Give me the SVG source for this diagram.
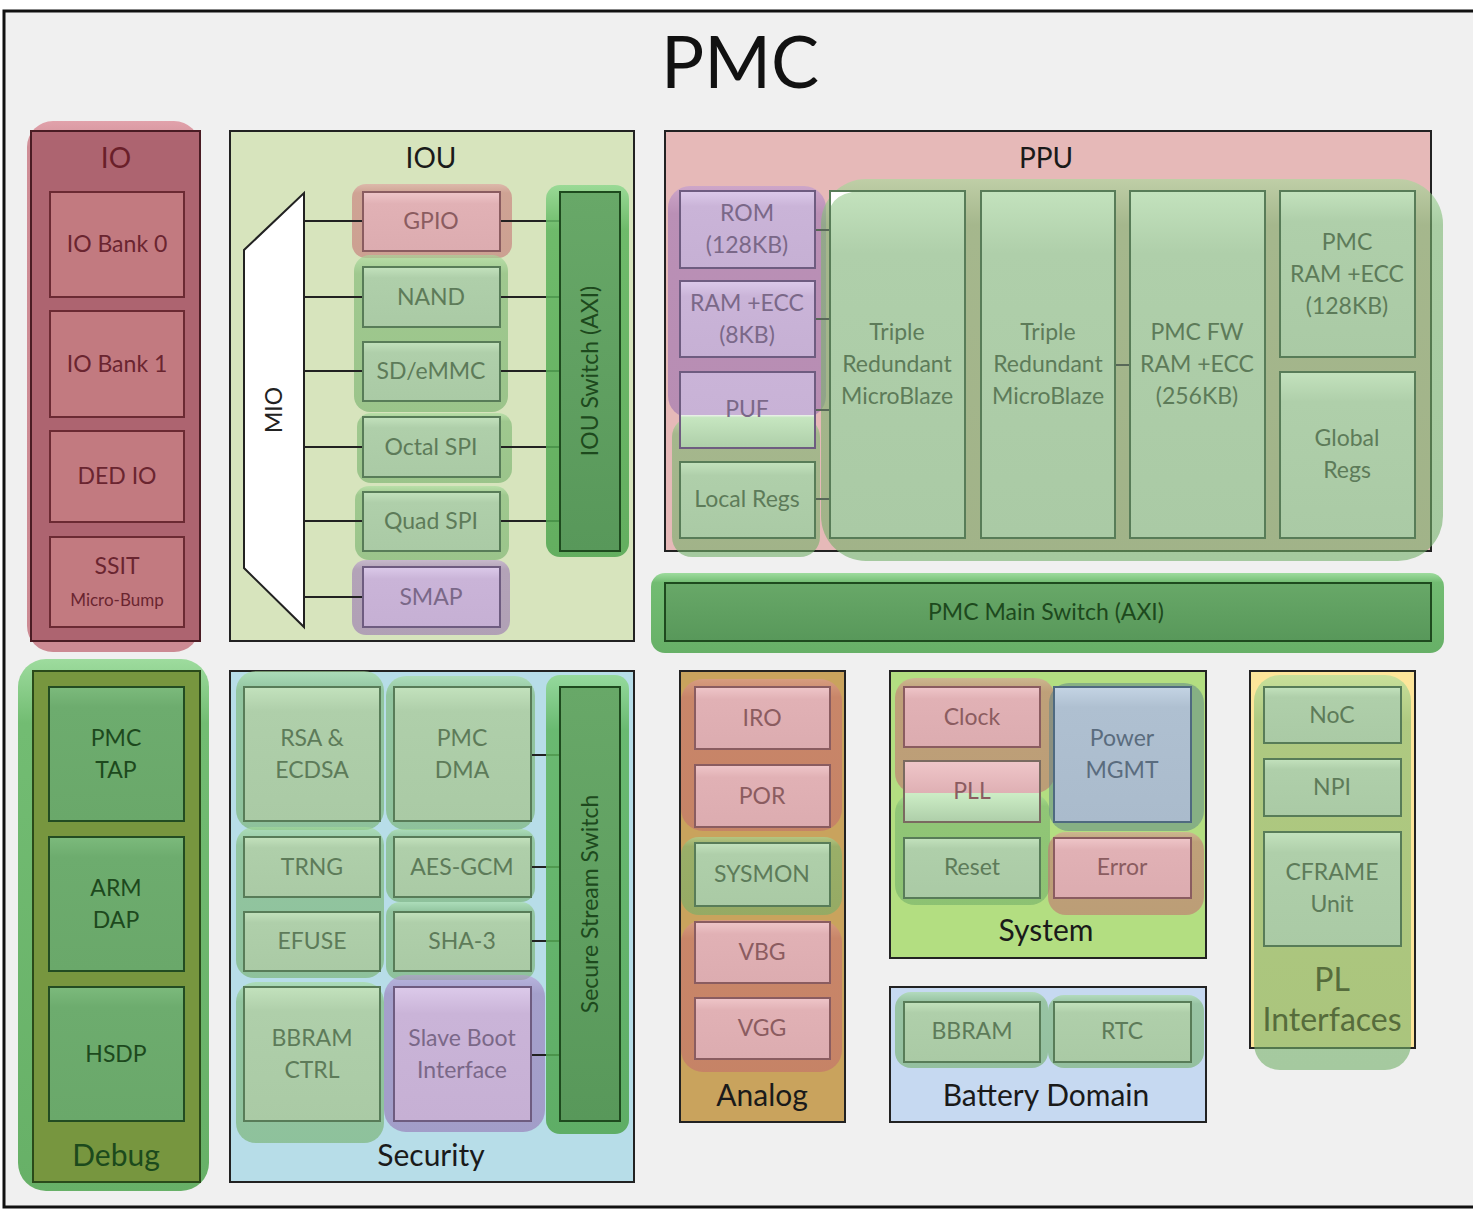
<svg xmlns="http://www.w3.org/2000/svg" width="1473" height="1210" viewBox="0 0 1473 1210">
<defs>
<style>
.t{font-family:Lato,"Liberation Sans",sans-serif;text-anchor:middle}
.m{font-size:23px}
.ttl{font-size:28px;fill:#1a1a1a}
.big{font-size:30px;fill:#1a1a1a}
.cont{stroke:#222;stroke-width:2}
.box-g{fill:url(#gG);stroke:#587c58;stroke-width:2}
.box-p{fill:url(#gP);stroke:#8a5c60;stroke-width:2}
.box-v{fill:url(#gV);stroke:#6e5c80;stroke-width:2}
.box-b{fill:url(#gB);stroke:#4f6a80;stroke-width:2}
.box-r{fill:#c27a80;stroke:#6b2a33;stroke-width:2}
.box-d{fill:url(#gD);stroke:#224c22;stroke-width:2}
.sw{fill:url(#gS);stroke:#1e4a1e;stroke-width:2}
.swo{fill:url(#gSO);opacity:0.85}
.tg{fill:#5d7b59}
.tp{fill:#8b5c60}
.tv{fill:#7a6888}
.tb{fill:#5a6c7e}
.tr{fill:#6a2530}
.td{fill:#1d491d}
.og{fill:url(#oG);opacity:0.6}
.op{fill:url(#oP);opacity:0.55}
.ov{fill:url(#oV);opacity:0.55}
.ob{fill:rgb(90,130,135);opacity:0.5}
.wire{stroke:#222;stroke-width:2;fill:none}
.wire2{stroke:#586858;stroke-width:2;fill:none}
</style>
<linearGradient id="gG" x1="0" y1="0" x2="0" y2="1"><stop offset="0" stop-color="#c3e2bd"/><stop offset="0.18" stop-color="#afcfaa"/><stop offset="1" stop-color="#aacaa5"/></linearGradient>
<linearGradient id="gP" x1="0" y1="0" x2="0" y2="1"><stop offset="0" stop-color="#efc6c9"/><stop offset="0.2" stop-color="#e1b1b5"/><stop offset="1" stop-color="#dcacb0"/></linearGradient>
<linearGradient id="gV" x1="0" y1="0" x2="0" y2="1"><stop offset="0" stop-color="#dccaea"/><stop offset="0.2" stop-color="#cab4d8"/><stop offset="1" stop-color="#c6b0d4"/></linearGradient>
<linearGradient id="gB" x1="0" y1="0" x2="0" y2="1"><stop offset="0" stop-color="#c4d4e4"/><stop offset="0.15" stop-color="#afc0d1"/><stop offset="1" stop-color="#aabbcc"/></linearGradient>
<linearGradient id="gD" x1="0" y1="0" x2="0" y2="1"><stop offset="0" stop-color="#7cba7c"/><stop offset="0.15" stop-color="#6dac6e"/><stop offset="1" stop-color="#6aa86a"/></linearGradient>
<linearGradient id="gS" x1="0" y1="0" x2="0" y2="1"><stop offset="0" stop-color="#68a868"/><stop offset="1" stop-color="#58985a"/></linearGradient>
<linearGradient id="gSO" x1="0" y1="0" x2="0" y2="1"><stop offset="0" stop-color="#8fd88f"/><stop offset="0.12" stop-color="#5cb35c"/><stop offset="1" stop-color="#4fa54f"/></linearGradient>
<linearGradient id="oG" x1="0" y1="0" x2="0" y2="1"><stop offset="0" stop-color="rgb(165,220,155)"/><stop offset="0.12" stop-color="rgb(122,182,112)"/><stop offset="1" stop-color="rgb(115,175,105)"/></linearGradient>
<linearGradient id="oP" x1="0" y1="0" x2="0" y2="1"><stop offset="0" stop-color="rgb(225,150,155)"/><stop offset="0.12" stop-color="rgb(200,110,115)"/><stop offset="1" stop-color="rgb(195,105,110)"/></linearGradient>
<linearGradient id="oV" x1="0" y1="0" x2="0" y2="1"><stop offset="0" stop-color="rgb(185,150,215)"/><stop offset="0.12" stop-color="rgb(150,110,180)"/><stop offset="1" stop-color="rgb(145,105,175)"/></linearGradient>
<linearGradient id="oR" x1="0" y1="0" x2="0" y2="1"><stop offset="0" stop-color="rgb(215,110,125)"/><stop offset="0.05" stop-color="rgb(185,75,90)"/><stop offset="1" stop-color="rgb(180,70,85)"/></linearGradient>
<linearGradient id="gPuf" x1="0" y1="0" x2="0" y2="1"><stop offset="0" stop-color="#cab4d8"/><stop offset="0.56" stop-color="#c8b2d6"/><stop offset="0.56" stop-color="#f4f4f4"/><stop offset="0.6" stop-color="#c6e6c0"/><stop offset="1" stop-color="#aecea9"/></linearGradient>
<linearGradient id="gPll" x1="0" y1="0" x2="0" y2="1"><stop offset="0" stop-color="#efc6c9"/><stop offset="0.52" stop-color="#dfb0b4"/><stop offset="0.52" stop-color="#cdeec6"/><stop offset="1" stop-color="#aecea9"/></linearGradient>
</defs>

<!-- frame -->
<rect x="4" y="11" width="1480" height="1196" fill="#f0f0f0" stroke="#111" stroke-width="3"/>
<text class="t" x="740" y="88" font-size="72" fill="#111">PMC</text>

<!-- containers -->
<g id="io">
<rect x="27" y="121" width="173" height="531" rx="26" fill="url(#oR)" opacity="0.6"/>
<rect x="31" y="131" width="169" height="510" fill="#ad6470" stroke="#4a1c24" stroke-width="2"/>
<text class="t ttl" x="116" y="168" style="fill:#6a1f2a">IO</text>
</g>
<g id="iou">
<rect class="cont" x="230" y="131" width="404" height="510" fill="#d7e4bd"/>
<text class="t ttl" x="431" y="168">IOU</text>
</g>
<g id="ppu">
<rect class="cont" x="665" y="131" width="766" height="420" fill="#e6b9b8"/>
<text class="t ttl" x="1046" y="168">PPU</text>
</g>
<g id="debug">
<rect x="18" y="659" width="191" height="532" rx="28" class="swo"/>
<rect x="33" y="671" width="167" height="511" fill="#77963f" stroke="#2a4a1a" stroke-width="2"/>
<text class="t big" x="116" y="1166" style="fill:#1c4a1c">Debug</text>
</g>
<g id="security">
<rect class="cont" x="230" y="671" width="404" height="511" fill="#b7dde8"/>
<text class="t big" x="431" y="1166">Security</text>
</g>
<g id="analog">
<rect class="cont" x="680" y="671" width="165" height="451" fill="#c9a35d"/>
<text class="t big" x="762" y="1106">Analog</text>
</g>
<g id="system">
<rect class="cont" x="890" y="671" width="316" height="287" fill="#b3de81"/>
<text class="t big" x="1046" y="941">System</text>
</g>
<g id="battery">
<rect class="cont" x="890" y="987" width="316" height="135" fill="#c6d9f1"/>
<text class="t big" x="1046" y="1106">Battery Domain</text>
</g>
<g id="pl-interfaces">
<rect class="cont" x="1250" y="671" width="165" height="377" fill="#fde59a"/>
</g>

<!-- translucent highlight groups -->
<g id="highlights">
<rect class="op" x="352" y="184" width="160" height="74" rx="14"/>
<rect class="og" x="354" y="255" width="154" height="157" rx="16"/>
<rect class="og" x="357" y="413" width="155" height="70" rx="14"/>
<rect class="og" x="355" y="486" width="154" height="74" rx="14"/>
<rect class="ov" x="352" y="560" width="158" height="75" rx="14"/>
<rect class="ov" x="668" y="186" width="158" height="232" rx="22"/>
<rect class="og" x="672" y="417" width="148" height="140" rx="20"/>
<rect class="og" x="821" y="179" width="622" height="382" rx="45"/>
<rect class="og" x="236" y="671" width="148" height="159" rx="20"/>
<rect class="og" x="386" y="676" width="149" height="154" rx="20"/>
<rect class="og" x="236" y="827" width="148" height="151" rx="18"/>
<rect class="og" x="386" y="829" width="149" height="73" rx="14"/>
<rect class="og" x="386" y="902" width="149" height="78" rx="14"/>
<rect class="og" x="236" y="982" width="148" height="161" rx="20"/>
<rect class="ov" x="384" y="975" width="161" height="157" rx="22"/>
<rect class="op" x="681" y="679" width="161" height="152" rx="22"/>
<rect class="og" x="681" y="837" width="161" height="78" rx="18"/>
<rect class="op" x="681" y="920" width="161" height="152" rx="22"/>
<rect class="op" x="895" y="678" width="160" height="115" rx="20"/>
<rect class="og" x="895" y="793" width="155" height="112" rx="20"/>
<rect class="ob" x="1049" y="683" width="155" height="148" rx="20"/>
<rect class="op" x="1048" y="832" width="156" height="83" rx="18"/>
<rect class="og" x="895" y="992" width="153" height="76" rx="16"/>
<rect class="og" x="1048" y="995" width="156" height="73" rx="16"/>
<rect class="og" x="1254" y="675" width="157" height="395" rx="26"/>
</g>
<text class="t" x="1332" y="991" font-size="32" fill="#566c3c">PL</text>
<text class="t" x="1332" y="1031" font-size="32" fill="#566c3c">Interfaces</text>

<!-- connectors -->
<g id="connectors">
<path class="wire" d="M304 221H363M304 297H363M304 371H363M304 447H363M304 521H363M304 597H363"/>
<path class="wire" d="M500 221H560M500 297H560M500 371H560M500 447H560M500 521H560"/>
<path class="wire2" d="M815 230H830M815 319H830M815 410H830M815 499H830M1115 365H1130"/>
<path class="wire" d="M531 755H560M531 867H560M531 941H560M531 1055H560"/>
</g>

<!-- IO nodes -->
<g id="io-bank-0"><rect class="box-r" x="50" y="192" width="134" height="105"/><text class="t m tr" x="117" y="252">IO Bank 0</text></g>
<g id="io-bank-1"><rect class="box-r" x="50" y="311" width="134" height="106"/><text class="t m tr" x="117" y="372">IO Bank 1</text></g>
<g id="ded-io"><rect class="box-r" x="50" y="431" width="134" height="91"/><text class="t m tr" x="117" y="484">DED IO</text></g>
<g id="ssit"><rect class="box-r" x="50" y="537" width="134" height="90"/><text class="t m tr" x="117" y="574">SSIT</text><text class="t tr" x="117" y="606" font-size="17">Micro-Bump</text></g>

<!-- IOU nodes -->
<g id="mio"><polygon points="304,193 304,627 244,568 244,250" fill="#fff" stroke="#222" stroke-width="2"/><text class="t" x="0" y="0" font-size="23" fill="#222" transform="translate(282,410) rotate(-90)">MIO</text></g>
<g id="gpio"><rect class="box-p" x="363" y="192" width="137" height="59"/><text class="t m tp" x="431" y="229">GPIO</text></g>
<g id="nand"><rect class="box-g" x="363" y="267" width="137" height="60"/><text class="t m tg" x="431" y="305">NAND</text></g>
<g id="sd-emmc"><rect class="box-g" x="363" y="342" width="137" height="59"/><text class="t m tg" x="431" y="379">SD/eMMC</text></g>
<g id="octal-spi"><rect class="box-g" x="363" y="417" width="137" height="60"/><text class="t m tg" x="431" y="455">Octal SPI</text></g>
<g id="quad-spi"><rect class="box-g" x="363" y="492" width="137" height="59"/><text class="t m tg" x="431" y="529">Quad SPI</text></g>
<g id="smap"><rect class="box-v" x="363" y="567" width="137" height="60"/><text class="t m tv" x="431" y="605">SMAP</text></g>
<g id="iou-switch"><rect class="swo" x="546" y="185" width="83" height="372" rx="14"/><rect class="sw" x="560" y="192" width="60" height="359"/><text class="t m td" x="0" y="0" transform="translate(598,371) rotate(-90)">IOU Switch (AXI)</text></g>

<!-- PPU nodes -->
<g id="rom"><rect class="box-v" x="680" y="191" width="135" height="77"/><text class="t m tv" x="747" y="221">ROM</text><text class="t m tv" x="747" y="253">(128KB)</text></g>
<g id="ram-8kb"><rect class="box-v" x="680" y="281" width="135" height="76"/><text class="t m tv" x="747" y="311">RAM +ECC</text><text class="t m tv" x="747" y="343">(8KB)</text></g>
<g id="puf"><rect x="680" y="372" width="135" height="76" fill="url(#gPuf)" stroke="#6e5c80" stroke-width="2"/><text class="t m tv" x="747" y="417">PUF</text></g>
<g id="local-regs"><rect class="box-g" x="680" y="462" width="135" height="76"/><text class="t m tg" x="747" y="507">Local Regs</text></g>
<g id="microblaze-1"><rect class="box-g" x="830" y="191" width="135" height="347"/><path d="M831 192H852Q836 195 831 206Z" fill="#fff"/><text class="t m tg" x="897" y="340">Triple</text><text class="t m tg" x="897" y="372">Redundant</text><text class="t m tg" x="897" y="404">MicroBlaze</text></g>
<g id="microblaze-2"><rect class="box-g" x="981" y="191" width="134" height="347"/><text class="t m tg" x="1048" y="340">Triple</text><text class="t m tg" x="1048" y="372">Redundant</text><text class="t m tg" x="1048" y="404">MicroBlaze</text></g>
<g id="pmc-fw-ram"><rect class="box-g" x="1130" y="191" width="135" height="347"/><text class="t m tg" x="1197" y="340">PMC FW</text><text class="t m tg" x="1197" y="372">RAM +ECC</text><text class="t m tg" x="1197" y="404">(256KB)</text></g>
<g id="pmc-ram"><rect class="box-g" x="1280" y="191" width="135" height="166"/><text class="t m tg" x="1347" y="250">PMC</text><text class="t m tg" x="1347" y="282">RAM +ECC</text><text class="t m tg" x="1347" y="314">(128KB)</text></g>
<g id="global-regs"><rect class="box-g" x="1280" y="372" width="135" height="166"/><text class="t m tg" x="1347" y="446">Global</text><text class="t m tg" x="1347" y="478">Regs</text></g>

<g id="pmc-main-switch"><rect class="swo" x="651" y="573" width="793" height="80" rx="14"/><rect class="sw" x="665" y="583" width="766" height="58"/><text class="t m td" x="1046" y="620">PMC Main Switch (AXI)</text></g>

<!-- Debug nodes -->
<g id="pmc-tap"><rect class="box-d" x="49" y="687" width="135" height="134"/><text class="t m td" x="116" y="746">PMC</text><text class="t m td" x="116" y="778">TAP</text></g>
<g id="arm-dap"><rect class="box-d" x="49" y="837" width="135" height="134"/><text class="t m td" x="116" y="896">ARM</text><text class="t m td" x="116" y="928">DAP</text></g>
<g id="hsdp"><rect class="box-d" x="49" y="987" width="135" height="134"/><text class="t m td" x="116" y="1062">HSDP</text></g>

<!-- Security nodes -->
<g id="rsa-ecdsa"><rect class="box-g" x="244" y="687" width="136" height="134"/><text class="t m tg" x="312" y="746">RSA &amp;</text><text class="t m tg" x="312" y="778">ECDSA</text></g>
<g id="pmc-dma"><rect class="box-g" x="394" y="687" width="137" height="134"/><text class="t m tg" x="462" y="746">PMC</text><text class="t m tg" x="462" y="778">DMA</text></g>
<g id="trng"><rect class="box-g" x="244" y="837" width="136" height="60"/><text class="t m tg" x="312" y="875">TRNG</text></g>
<g id="aes-gcm"><rect class="box-g" x="394" y="837" width="137" height="60"/><text class="t m tg" x="462" y="875">AES-GCM</text></g>
<g id="efuse"><rect class="box-g" x="244" y="912" width="136" height="59"/><text class="t m tg" x="312" y="949">EFUSE</text></g>
<g id="sha-3"><rect class="box-g" x="394" y="912" width="137" height="59"/><text class="t m tg" x="462" y="949">SHA-3</text></g>
<g id="bbram-ctrl"><rect class="box-g" x="244" y="987" width="136" height="134"/><text class="t m tg" x="312" y="1046">BBRAM</text><text class="t m tg" x="312" y="1078">CTRL</text></g>
<g id="slave-boot"><rect class="box-v" x="394" y="987" width="137" height="134"/><text class="t m tv" x="462" y="1046">Slave Boot</text><text class="t m tv" x="462" y="1078">Interface</text></g>
<g id="secure-stream-switch"><rect class="swo" x="546" y="675" width="83" height="459" rx="14"/><rect class="sw" x="560" y="687" width="60" height="434"/><text class="t m td" x="0" y="0" transform="translate(598,904) rotate(-90)">Secure Stream Switch</text></g>

<!-- Analog nodes -->
<g id="iro"><rect class="box-p" x="695" y="687" width="135" height="62"/><text class="t m tp" x="762" y="726">IRO</text></g>
<g id="por"><rect class="box-p" x="695" y="765" width="135" height="62"/><text class="t m tp" x="762" y="804">POR</text></g>
<g id="sysmon"><rect class="box-g" x="695" y="843" width="135" height="63"/><text class="t m tg" x="762" y="882">SYSMON</text></g>
<g id="vbg"><rect class="box-p" x="695" y="922" width="135" height="61"/><text class="t m tp" x="762" y="960">VBG</text></g>
<g id="vgg"><rect class="box-p" x="695" y="998" width="135" height="61"/><text class="t m tp" x="762" y="1036">VGG</text></g>

<!-- System nodes -->
<g id="clock"><rect class="box-p" x="904" y="687" width="136" height="60"/><text class="t m tp" x="972" y="725">Clock</text></g>
<g id="pll"><rect x="904" y="761" width="136" height="61" fill="url(#gPll)" stroke="#7a6a60" stroke-width="2"/><text class="t m tp" x="972" y="799">PLL</text></g>
<g id="reset"><rect class="box-g" x="904" y="838" width="136" height="60"/><text class="t m tg" x="972" y="875">Reset</text></g>
<g id="power-mgmt"><rect class="box-b" x="1054" y="687" width="137" height="135"/><text class="t m tb" x="1122" y="746">Power</text><text class="t m tb" x="1122" y="778">MGMT</text></g>
<g id="error"><rect class="box-p" x="1054" y="838" width="137" height="60"/><text class="t m tp" x="1122" y="875">Error</text></g>

<!-- Battery nodes -->
<g id="bbram"><rect class="box-g" x="904" y="1002" width="136" height="60"/><text class="t m tg" x="972" y="1039">BBRAM</text></g>
<g id="rtc"><rect class="box-g" x="1054" y="1002" width="137" height="60"/><text class="t m tg" x="1122" y="1039">RTC</text></g>

<!-- PL interface nodes -->
<g id="noc"><rect class="box-g" x="1264" y="687" width="137" height="56"/><text class="t m tg" x="1332" y="723">NoC</text></g>
<g id="npi"><rect class="box-g" x="1264" y="759" width="137" height="57"/><text class="t m tg" x="1332" y="795">NPI</text></g>
<g id="cframe"><rect class="box-g" x="1264" y="832" width="137" height="114"/><text class="t m tg" x="1332" y="880">CFRAME</text><text class="t m tg" x="1332" y="912">Unit</text></g>
</svg>
